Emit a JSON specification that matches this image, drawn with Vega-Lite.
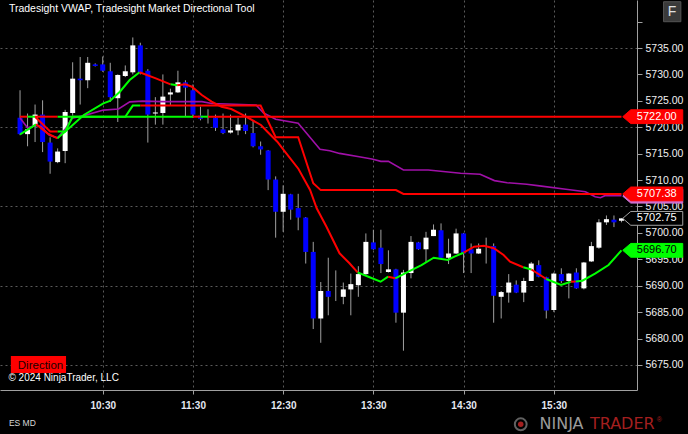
{
  "$schema": "https://vega.github.io/schema/vega-lite/v6.json",
  "width": 637,
  "height": 390,
  "autosize": {"type": "none"},
  "padding": {"left": 0, "top": 0, "right": 51, "bottom": 44},
  "background": "#000000",
  "config": {"view": {"stroke": null}, "font": "Liberation Sans", "axis": {"labelOverlap": false}},
  "resolve": {"scale": {"color": "independent", "fill": "independent", "stroke": "independent"}},
  "datasets": {
    "candles": [
      {"t":575,"o":5721.8,"h":5727.0,"l":5718.5,"c":5718.7},
      {"t":580,"o":5718.7,"h":5722.6,"l":5716.4,"c":5719.6},
      {"t":585,"o":5720.2,"h":5724.3,"l":5717.2,"c":5722.4},
      {"t":590,"o":5722.4,"h":5725.1,"l":5715.3,"c":5717.2},
      {"t":595,"o":5717.1,"h":5718.1,"l":5711.2,"c":5713.5},
      {"t":600,"o":5713.4,"h":5716.0,"l":5713.2,"c":5715.4},
      {"t":605,"o":5715.5,"h":5723.3,"l":5713.2,"c":5722.9},
      {"t":610,"o":5722.7,"h":5732.3,"l":5722.2,"c":5729.2},
      {"t":615,"o":5729.2,"h":5733.3,"l":5724.3,"c":5728.9},
      {"t":620,"o":5728.9,"h":5733.3,"l":5727.4,"c":5732.2},
      {"t":625,"o":5731.9,"h":5732.1,"l":5731.5,"c":5731.6},
      {"t":630,"o":5731.9,"h":5733.4,"l":5730.5,"c":5730.7},
      {"t":635,"o":5730.6,"h":5732.2,"l":5724.8,"c":5725.7},
      {"t":640,"o":5725.5,"h":5730.0,"l":5721.0,"c":5729.9},
      {"t":645,"o":5729.7,"h":5731.7,"l":5729.5,"c":5730.6},
      {"t":650,"o":5730.4,"h":5737.0,"l":5730.0,"c":5735.5},
      {"t":655,"o":5735.5,"h":5736.0,"l":5730.0,"c":5730.4},
      {"t":660,"o":5730.7,"h":5731.0,"l":5717.1,"c":5722.4},
      {"t":665,"o":5722.6,"h":5725.7,"l":5720.5,"c":5722.8},
      {"t":670,"o":5722.7,"h":5730.0,"l":5720.5,"c":5725.8},
      {"t":675,"o":5726.2,"h":5727.3,"l":5724.1,"c":5726.6},
      {"t":680,"o":5726.6,"h":5730.7,"l":5726.5,"c":5728.5},
      {"t":685,"o":5728.5,"h":5728.9,"l":5722.1,"c":5727.5},
      {"t":690,"o":5727.0,"h":5728.1,"l":5721.8,"c":5722.4},
      {"t":695,"o":5722.2,"h":5723.9,"l":5721.3,"c":5721.6},
      {"t":700,"o":5721.8,"h":5723.4,"l":5720.7,"c":5721.8},
      {"t":705,"o":5721.8,"h":5722.4,"l":5719.3,"c":5719.9},
      {"t":710,"o":5719.6,"h":5722.6,"l":5718.7,"c":5718.9},
      {"t":715,"o":5719.0,"h":5722.4,"l":5718.8,"c":5719.4},
      {"t":720,"o":5719.4,"h":5721.8,"l":5718.5,"c":5720.5},
      {"t":725,"o":5720.5,"h":5722.6,"l":5718.7,"c":5719.3},
      {"t":730,"o":5718.9,"h":5721.2,"l":5716.2,"c":5716.4},
      {"t":735,"o":5716.4,"h":5717.3,"l":5714.8,"c":5715.8},
      {"t":740,"o":5715.6,"h":5715.7,"l":5708.1,"c":5710.1},
      {"t":745,"o":5710.1,"h":5710.7,"l":5699.1,"c":5704.0},
      {"t":750,"o":5704.0,"h":5709.0,"l":5700.2,"c":5707.4},
      {"t":755,"o":5707.3,"h":5707.4,"l":5702.5,"c":5704.4},
      {"t":760,"o":5704.7,"h":5707.4,"l":5700.5,"c":5702.9},
      {"t":765,"o":5702.9,"h":5703.0,"l":5694.2,"c":5696.4},
      {"t":770,"o":5696.4,"h":5698.3,"l":5681.8,"c":5683.8},
      {"t":775,"o":5683.8,"h":5690.7,"l":5679.2,"c":5689.0},
      {"t":780,"o":5689.0,"h":5695.3,"l":5684.4,"c":5687.9},
      {"t":785,"o":5689.2,"h":5692.9,"l":5687.1,"c":5689.2},
      {"t":790,"o":5687.9,"h":5690.6,"l":5686.5,"c":5689.3},
      {"t":795,"o":5689.3,"h":5692.3,"l":5684.4,"c":5690.3},
      {"t":800,"o":5690.1,"h":5693.7,"l":5687.9,"c":5692.2},
      {"t":805,"o":5692.2,"h":5699.9,"l":5691.9,"c":5698.3},
      {"t":810,"o":5698.2,"h":5700.6,"l":5696.8,"c":5696.9},
      {"t":815,"o":5697.2,"h":5700.6,"l":5692.4,"c":5694.1},
      {"t":820,"o":5692.6,"h":5696.7,"l":5692.5,"c":5693.1},
      {"t":825,"o":5693.1,"h":5693.2,"l":5683.0,"c":5684.9},
      {"t":830,"o":5684.9,"h":5693.0,"l":5677.7,"c":5692.5},
      {"t":835,"o":5692.4,"h":5699.4,"l":5691.4,"c":5698.3},
      {"t":840,"o":5698.2,"h":5698.3,"l":5696.8,"c":5696.9},
      {"t":845,"o":5696.9,"h":5700.2,"l":5694.4,"c":5699.1},
      {"t":850,"o":5699.4,"h":5701.6,"l":5699.4,"c":5700.6},
      {"t":855,"o":5700.5,"h":5701.8,"l":5695.3,"c":5695.3},
      {"t":860,"o":5695.3,"h":5698.9,"l":5694.1,"c":5696.1},
      {"t":865,"o":5696.1,"h":5700.8,"l":5696.0,"c":5699.9},
      {"t":870,"o":5699.9,"h":5700.0,"l":5692.4,"c":5696.1},
      {"t":875,"o":5696.9,"h":5698.0,"l":5692.4,"c":5696.1},
      {"t":880,"o":5696.1,"h":5698.0,"l":5696.0,"c":5697.0},
      {"t":885,"o":5696.7,"h":5699.1,"l":5694.2,"c":5696.7},
      {"t":890,"o":5697.5,"h":5698.0,"l":5683.0,"c":5688.1},
      {"t":895,"o":5687.9,"h":5689.0,"l":5683.8,"c":5688.8},
      {"t":900,"o":5688.7,"h":5692.2,"l":5686.8,"c":5690.6},
      {"t":905,"o":5690.2,"h":5691.0,"l":5688.6,"c":5688.7},
      {"t":910,"o":5688.7,"h":5691.5,"l":5686.9,"c":5690.9},
      {"t":915,"o":5690.9,"h":5694.5,"l":5690.9,"c":5694.2},
      {"t":920,"o":5693.9,"h":5694.8,"l":5691.6,"c":5691.7},
      {"t":925,"o":5691.6,"h":5691.7,"l":5683.8,"c":5685.3},
      {"t":930,"o":5685.4,"h":5692.5,"l":5685.0,"c":5692.3},
      {"t":935,"o":5692.2,"h":5693.3,"l":5690.5,"c":5690.9},
      {"t":940,"o":5690.9,"h":5692.4,"l":5687.6,"c":5692.3},
      {"t":945,"o":5692.5,"h":5693.3,"l":5689.4,"c":5689.5},
      {"t":950,"o":5689.5,"h":5694.5,"l":5689.3,"c":5694.4},
      {"t":955,"o":5694.6,"h":5698.3,"l":5694.5,"c":5697.5},
      {"t":960,"o":5697.2,"h":5702.6,"l":5697.0,"c":5702.0},
      {"t":965,"o":5702.0,"h":5703.3,"l":5701.5,"c":5702.6},
      {"t":970,"o":5702.5,"h":5703.3,"l":5701.1,"c":5702.0},
      {"t":975,"o":5702.3,"h":5702.75,"l":5702.0,"c":5702.75}
    ],
    "level": [
      {"s":1,"t":575,"p":5722,"d":"down"},{"s":1,"t":580,"p":5722,"d":"down"},
      {"s":2,"t":580,"p":5722,"d":"up"},{"s":2,"t":585,"p":5722,"d":"up"},
      {"s":3,"t":585,"p":5722,"d":"down"},{"s":3,"t":600,"p":5722,"d":"down"},
      {"s":4,"t":600,"p":5722,"d":"up"},{"s":4,"t":690,"p":5722,"d":"up"},
      {"s":5,"t":690,"p":5722,"d":"down"},{"s":5,"t":695,"p":5722,"d":"down"},
      {"s":6,"t":695,"p":5722,"d":"up"},{"s":6,"t":700,"p":5722,"d":"up"},
      {"s":7,"t":700,"p":5722,"d":"down"},{"s":7,"t":975,"p":5722,"d":"down"}
    ],
    "step": [
      {"s":1,"t":585,"p":5722,"d":"down"},{"s":1,"t":595,"p":5719.2,"d":"down"},{"s":1,"t":600,"p":5719.2,"d":"down"},
      {"s":2,"t":600,"p":5719.2,"d":"up"},{"s":2,"t":605,"p":5719.2,"d":"up"},{"s":2,"t":610,"p":5722,"d":"up"},{"s":2,"t":645,"p":5722,"d":"up"},{"s":2,"t":650,"p":5724.1,"d":"up"},{"s":2,"t":655,"p":5724.1,"d":"up"},
      {"s":3,"t":655,"p":5724.1,"d":"down"},{"s":3,"t":735,"p":5724.1,"d":"down"},{"s":3,"t":745,"p":5718.1,"d":"down"},{"s":3,"t":760,"p":5718.1,"d":"down"},{"s":3,"t":770,"p":5709.4,"d":"down"},{"s":3,"t":775,"p":5708.1,"d":"down"},{"s":3,"t":825,"p":5708.1,"d":"down"},{"s":3,"t":830,"p":5707.38,"d":"down"},{"s":3,"t":975,"p":5707.38,"d":"down"}
    ],
    "vwap": [
      {"t":575,"p":5721.75},{"t":580,"p":5719.9},{"t":586,"p":5720.4},{"t":589,"p":5720.1},{"t":594.5,"p":5718.5},{"t":600,"p":5718.0},{"t":605.5,"p":5719.8},{"t":609.5,"p":5721.7},{"t":617.5,"p":5722.2},{"t":630.5,"p":5723.25},{"t":640.5,"p":5723.45},{"t":648,"p":5724.8},{"t":656.5,"p":5724.95},{"t":670,"p":5724.85},{"t":696,"p":5724.85},{"t":702.5,"p":5724.5},{"t":732,"p":5724.2},{"t":737,"p":5722.7},{"t":745,"p":5721.5},{"t":760,"p":5720.75},{"t":774.5,"p":5715.85},{"t":781,"p":5715.55},{"t":787.5,"p":5715.05},{"t":800.5,"p":5714.4},{"t":809,"p":5714.0},{"t":815,"p":5713.55},{"t":820,"p":5713.55},{"t":830,"p":5711.9},{"t":846.5,"p":5711.9},{"t":868,"p":5711.3},{"t":881,"p":5711.1},{"t":890.5,"p":5709.9},{"t":899,"p":5709.5},{"t":912,"p":5709.2},{"t":920.5,"p":5708.9},{"t":938,"p":5708.25},{"t":951,"p":5707.8},{"t":957.5,"p":5706.85},{"t":961,"p":5706.65},{"t":964,"p":5707.05},{"t":975,"p":5707.05}
    ],
    "smooth": [
      {"s":1,"t":575,"p":5718.66,"d":"up"},{"s":1,"t":585.7,"p":5720.56,"d":"up"},
      {"s":2,"t":585.7,"p":5720.56,"d":"down"},{"s":2,"t":593.3,"p":5718.85,"d":"down"},{"s":2,"t":599.9,"p":5717.91,"d":"down"},
      {"s":3,"t":599.9,"p":5717.91,"d":"up"},{"s":3,"t":608.7,"p":5720.1,"d":"up"},{"s":3,"t":617.4,"p":5722.32,"d":"up"},{"s":3,"t":630.4,"p":5724.53,"d":"up"},{"s":3,"t":634.8,"p":5724.97,"d":"up"},{"s":3,"t":641.4,"p":5726.73,"d":"up"},{"s":3,"t":647.9,"p":5728.94,"d":"up"},{"s":3,"t":654.5,"p":5730.42,"d":"up"},
      {"s":4,"t":654.5,"p":5730.42,"d":"down"},{"s":4,"t":665.3,"p":5729.26,"d":"down"},{"s":4,"t":675.1,"p":5728.13,"d":"down"},
      {"s":5,"t":675.1,"p":5728.13,"d":"up"},{"s":5,"t":679.5,"p":5727.94,"d":"up"},
      {"s":6,"t":679.5,"p":5727.94,"d":"down"},{"s":6,"t":685,"p":5728.13,"d":"down"},{"s":6,"t":689.3,"p":5727.67,"d":"down"},{"s":6,"t":695.9,"p":5726.1,"d":"down"},{"s":6,"t":702.4,"p":5724.84,"d":"down"},{"s":6,"t":709,"p":5723.89,"d":"down"},{"s":6,"t":715.5,"p":5723.45,"d":"down"},{"s":6,"t":725.3,"p":5722.0,"d":"down"},{"s":6,"t":735.2,"p":5720.43,"d":"down"},{"s":6,"t":739.5,"p":5719.16,"d":"down"},{"s":6,"t":746.1,"p":5717.26,"d":"down"},{"s":6,"t":750.4,"p":5715.69,"d":"down"},{"s":6,"t":760.2,"p":5712.1,"d":"down"},{"s":6,"t":767.9,"p":5708.12,"d":"down"},{"s":6,"t":772.3,"p":5704.66,"d":"down"},{"s":6,"t":778.8,"p":5701.17,"d":"down"},{"s":6,"t":787.5,"p":5696.14,"d":"down"},{"s":6,"t":794.1,"p":5694.25,"d":"down"},{"s":6,"t":799.5,"p":5692.54,"d":"down"},
      {"s":7,"t":799.5,"p":5692.54,"d":"up"},{"s":7,"t":807.1,"p":5691.65,"d":"up"},{"s":7,"t":814.8,"p":5690.76,"d":"up"},{"s":7,"t":819.8,"p":5691.71,"d":"up"},
      {"s":8,"t":819.8,"p":5691.71,"d":"down"},{"s":8,"t":824.6,"p":5691.41,"d":"down"},
      {"s":9,"t":824.6,"p":5691.41,"d":"up"},{"s":9,"t":833.3,"p":5692.66,"d":"up"},{"s":9,"t":842,"p":5693.92,"d":"up"},{"s":9,"t":850.1,"p":5695.31,"d":"up"},{"s":9,"t":859.5,"p":5694.87,"d":"up"},{"s":9,"t":863.9,"p":5695.5,"d":"up"},{"s":9,"t":870,"p":5696.25,"d":"up"},
      {"s":10,"t":870,"p":5696.25,"d":"down"},{"s":10,"t":877,"p":5697.39,"d":"down"},{"s":10,"t":883.5,"p":5697.58,"d":"down"},{"s":10,"t":890.1,"p":5697.09,"d":"down"},{"s":10,"t":896.6,"p":5695.82,"d":"down"},{"s":10,"t":900.9,"p":5694.55,"d":"down"},{"s":10,"t":909.7,"p":5693.49,"d":"down"},
      {"s":11,"t":909.7,"p":5693.49,"d":"up"},{"s":11,"t":915.1,"p":5693.07,"d":"up"},
      {"s":12,"t":915.1,"p":5693.07,"d":"down"},{"s":12,"t":925,"p":5691.27,"d":"down"},
      {"s":13,"t":925,"p":5691.27,"d":"up"},{"s":13,"t":934.8,"p":5690.14,"d":"up"},{"s":13,"t":941.3,"p":5690.76,"d":"up"},
      {"s":14,"t":941.3,"p":5690.76,"d":"down"},{"s":14,"t":944.6,"p":5690.8,"d":"down"},
      {"s":15,"t":944.6,"p":5690.8,"d":"up"},{"s":15,"t":949,"p":5690.95,"d":"up"},{"s":15,"t":957.7,"p":5692.35,"d":"up"},{"s":15,"t":966.4,"p":5693.92,"d":"up"},{"s":15,"t":975,"p":5696.7,"d":"up"}
    ],
    "marks": [
      {"k":"vwap","p":5706.95},
      {"k":"step","p":5707.38},
      {"k":"level","p":5722.0},
      {"k":"last","p":5702.75},
      {"k":"ma","p":5696.7}
    ]
  },
  "layer": [
    {
      "data": {"name": "candles"},
      "mark": {"type": "rule", "color": "#a0a0a0", "strokeWidth": 1},
      "encoding": {
        "x": {"field": "t", "type": "quantitative",
          "scale": {"domain": [565, 982], "nice": false, "zero": false},
          "axis": {"values": [630, 690, 750, 810, 870, 930], "tickCount": 30,
            "labelExpr": "floor(datum.value/60) + ':' + (datum.value % 60 < 10 ? '0' : '') + (datum.value % 60)",
            "title": null, "grid": true, "gridColor": "#5a5a5a", "gridDash": [2, 3],
            "domainColor": "#a0a0a0", "tickColor": "#a0a0a0", "tickSize": 4,
            "labelColor": "#e4e8f2", "labelFontSize": 10, "labelFontWeight": "bold",
            "labelPadding": 6, "labelFlush": false, "labelOverlap": false, "labelFont": "Liberation Sans"}},
        "y": {"field": "l", "type": "quantitative",
          "scale": {"domain": [5670.26, 5744.09], "nice": false, "zero": false},
          "axis": {"orient": "right", "tickCount": 30,
            "values": [5675, 5680, 5685, 5690, 5695, 5700, 5705, 5710, 5715, 5720, 5725, 5730, 5735, 5740],
            "labelExpr": "datum.value > 5737 ? '' : format(datum.value, '.2f')",
            "title": null, "grid": true, "gridColor": "#5a5a5a", "gridDash": [2, 3],
            "gridOpacity": {"condition": {"test": "datum.value % 15 === 5", "value": 1}, "value": 0},
            "domainColor": "#a0a0a0", "tickColor": "#a0a0a0", "tickSize": 5,
            "labelColor": "#f0f0f0", "labelFontSize": 10.5, "labelPadding": 3, "labelOverlap": false, "labelFont": "Liberation Sans"}},
        "y2": {"field": "h"}
      }
    },
    {
      "data": {"name": "candles"},
      "mark": {"type": "bar", "width": 5, "orient": "vertical"},
      "encoding": {
        "x": {"field": "t", "type": "quantitative"},
        "y": {"field": "o", "type": "quantitative"},
        "y2": {"field": "c"},
        "color": {"condition": {"test": "datum.c >= datum.o", "value": "#ffffff"}, "value": "#0000ff"}
      }
    },
    {
      "data": {"name": "vwap"},
      "mark": {"type": "line", "color": "#a010a8", "strokeWidth": 1.6},
      "encoding": {
        "x": {"field": "t", "type": "quantitative"},
        "y": {"field": "p", "type": "quantitative"}
      }
    },
    {
      "data": {"name": "step"},
      "mark": {"type": "line", "strokeWidth": 2},
      "encoding": {
        "x": {"field": "t", "type": "quantitative"},
        "y": {"field": "p", "type": "quantitative"},
        "detail": {"field": "s"},
        "color": {"field": "d", "type": "nominal", "scale": {"domain": ["up", "down"], "range": ["#00ff00", "#ff0000"]}, "legend": null}
      }
    },
    {
      "data": {"name": "level"},
      "mark": {"type": "line", "strokeWidth": 2},
      "encoding": {
        "x": {"field": "t", "type": "quantitative"},
        "y": {"field": "p", "type": "quantitative"},
        "detail": {"field": "s"},
        "color": {"field": "d", "type": "nominal", "scale": {"domain": ["up", "down"], "range": ["#00ff00", "#ff0000"]}, "legend": null}
      }
    },
    {
      "data": {"name": "smooth"},
      "mark": {"type": "line", "strokeWidth": 2},
      "encoding": {
        "x": {"field": "t", "type": "quantitative"},
        "y": {"field": "p", "type": "quantitative"},
        "detail": {"field": "s"},
        "color": {"field": "d", "type": "nominal", "scale": {"domain": ["up", "down"], "range": ["#00ff00", "#ff0000"]}, "legend": null}
      }
    },
    {
      "data": {"name": "marks"},
      "mark": {"type": "point", "shape": "M-1,0L-0.733,-0.23L1,-0.23L1,0.23L-0.733,0.23Z", "size": 3600, "filled": true, "opacity": 1, "strokeWidth": 1},
      "encoding": {
        "x": {"datum": 995.8},
        "y": {"field": "p", "type": "quantitative"},
        "fill": {"field": "k", "type": "nominal", "scale": {"domain": ["vwap", "step", "level", "last", "ma"], "range": ["#d070d0", "#ff0000", "#ff0000", "#000000", "#00ff00"]}, "legend": null},
        "stroke": {"field": "k", "type": "nominal", "scale": {"domain": ["vwap", "step", "level", "last", "ma"], "range": ["#d070d0", "#ff0000", "#ff0000", "#a0a0a0", "#00ff00"]}, "legend": null}
      }
    },
    {
      "data": {"name": "marks"},
      "transform": [{"filter": "datum.k !== 'vwap'"}],
      "mark": {"type": "text", "align": "center", "baseline": "middle", "dx": 4, "fontSize": 11, "font": "Liberation Sans"},
      "encoding": {
        "x": {"datum": 995.8},
        "y": {"field": "p", "type": "quantitative"},
        "text": {"field": "p", "type": "quantitative", "format": ".2f"},
        "color": {"field": "k", "type": "nominal", "scale": {"domain": ["step", "level", "last", "ma"], "range": ["#ffffff", "#ffffff", "#ffffff", "#000000"]}, "legend": null}
      }
    },
    {
      "data": {"values": [{}]},
      "mark": {"type": "text", "align": "left", "baseline": "middle", "color": "#ffffff", "fontSize": 10.5, "text": "Tradesight VWAP, Tradesight Market Directional Tool"},
      "encoding": {"x": {"datum": 567.6}, "y": {"datum": 5742.4}}
    },
    {
      "data": {"values": [{}]},
      "mark": {"type": "rect", "fill": "#3a3a3a", "stroke": "#555555", "strokeWidth": 1},
      "encoding": {"x": {"datum": 1003}, "x2": {"datum": 1014.5}, "y": {"datum": 5743.76}, "y2": {"datum": 5739.98}}
    },
    {
      "data": {"values": [{}]},
      "mark": {"type": "text", "align": "center", "baseline": "middle", "color": "#e0e0e0", "fontSize": 14, "text": "F"},
      "encoding": {"x": {"datum": 1008.7}, "y": {"datum": 5741.87}}
    },
    {
      "data": {"values": [{}]},
      "mark": {"type": "rect", "fill": "#ff0000"},
      "encoding": {"x": {"datum": 568.9}, "x2": {"datum": 605.6}, "y": {"datum": 5676.7}, "y2": {"datum": 5673.48}}
    },
    {
      "data": {"values": [{}]},
      "mark": {"type": "text", "align": "center", "baseline": "middle", "color": "#200000", "fontSize": 11.5, "text": "Direction"},
      "encoding": {"x": {"datum": 588.6}, "y": {"datum": 5674.81}}
    },
    {
      "data": {"values": [{}]},
      "mark": {"type": "text", "align": "left", "baseline": "middle", "color": "#ffffff", "fontSize": 10, "text": "© 2024 NinjaTrader, LLC"},
      "encoding": {"x": {"datum": 567.3}, "y": {"datum": 5672.48}}
    },
    {
      "data": {"values": [{}]},
      "mark": {"type": "text", "align": "left", "baseline": "middle", "color": "#d8d8d8", "fontSize": 8.5, "text": "ES MD"},
      "encoding": {"x": {"datum": 567.6}, "y": {"datum": 5663.96}}
    },
    {
      "data": {"values": [{}]},
      "mark": {"type": "point", "shape": "circle", "size": 140, "filled": false, "stroke": "#8a8a8a", "strokeWidth": 2},
      "encoding": {"x": {"datum": 908}, "y": {"datum": 5663.77}}
    },
    {
      "data": {"values": [{}]},
      "mark": {"type": "point", "shape": "circle", "size": 30, "filled": true, "fill": "#a31f1f", "opacity": 1},
      "encoding": {"x": {"datum": 908}, "y": {"datum": 5663.77}}
    },
    {
      "data": {"values": [{}]},
      "mark": {"type": "text", "align": "left", "baseline": "middle", "color": "#9a9a9a", "fontSize": 16, "font": "DejaVu Sans", "text": "NINJA"},
      "encoding": {"x": {"datum": 920.5}, "y": {"datum": 5663.77}}
    },
    {
      "data": {"values": [{}]},
      "mark": {"type": "text", "align": "left", "baseline": "middle", "color": "#a31f1f", "fontSize": 16, "font": "DejaVu Sans", "text": "TRADER"},
      "encoding": {"x": {"datum": 954}, "y": {"datum": 5663.77}}
    },
    {
      "data": {"values": [{}]},
      "mark": {"type": "text", "align": "left", "baseline": "middle", "color": "#a31f1f", "fontSize": 7, "text": "®"},
      "encoding": {"x": {"datum": 998.5}, "y": {"datum": 5664.6}}
    }
  ]
}
